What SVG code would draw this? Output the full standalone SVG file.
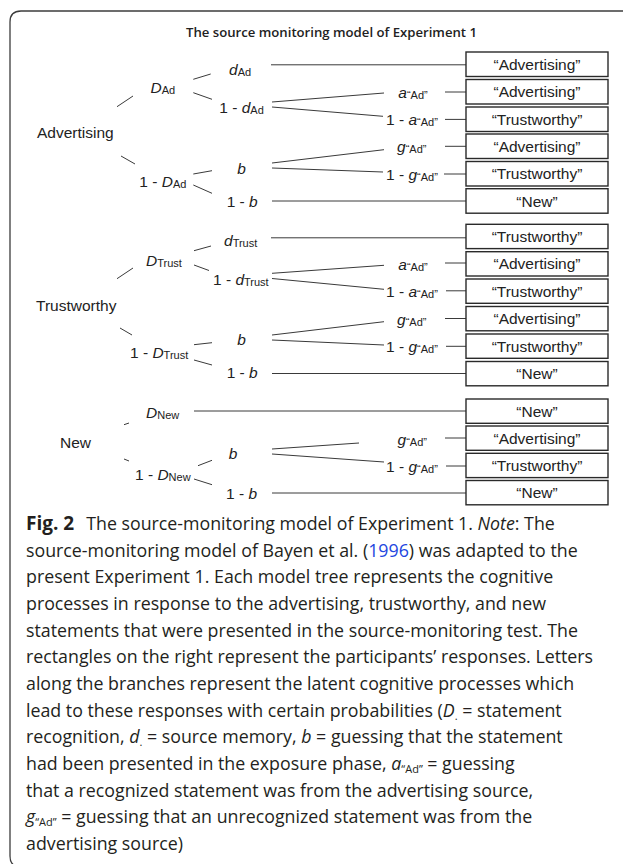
<svg xmlns="http://www.w3.org/2000/svg" width="623" height="864" viewBox="0 0 623 864">
<style>
.frame{fill:none;stroke:#3c3c3c;stroke-width:1.3}
.ln{fill:none;stroke:#3a3a3a;stroke-width:1}
.box{fill:#fff;stroke:#2a2a2a;stroke-width:1.4}
.lbl{font-family:"Liberation Sans",Arial,sans-serif;font-size:15.5px;fill:#222}
.bt{text-anchor:middle}
.it{font-style:italic}
.sub{font-size:11px;font-style:normal}
.title{font-family:"Open Sans","Noto Sans",sans-serif;font-size:12.5px;font-weight:600;fill:#222}
.cap{font-family:"Open Sans","Noto Sans",sans-serif;font-size:17.8px;fill:#231f20}
.b{font-weight:700;font-size:19px}
.csub{font-size:11px;font-style:normal}
.link{fill:#2346e0}
</style>
<rect width="623" height="864" fill="#fff"/>
<path class="frame" d="M623,11 H21 Q10,11 10,22 V856 Q10,867 21,867"/>
<text class="title" x="186" y="37" textLength="291" lengthAdjust="spacingAndGlyphs">The source monitoring model of Experiment 1</text>

<g id="connectors">
<!-- tree 1 -->
<line class="ln" x1="117" y1="106.7" x2="133" y2="96"/>
<line class="ln" x1="121" y1="156" x2="135" y2="164"/>
<line class="ln" x1="193.3" y1="79.3" x2="210.7" y2="74"/>
<line class="ln" x1="193.3" y1="92.7" x2="212" y2="99.3"/>
<line class="ln" x1="193.3" y1="174" x2="212" y2="170.7"/>
<line class="ln" x1="193.3" y1="185" x2="212" y2="193.3"/>
<line class="ln" x1="271" y1="64.8" x2="466" y2="64.8"/>
<line class="ln" x1="272" y1="102" x2="384" y2="93"/>
<line class="ln" x1="272" y1="107" x2="383" y2="116.3"/>
<line class="ln" x1="445" y1="92" x2="466" y2="92"/>
<line class="ln" x1="445" y1="119.4" x2="466" y2="119.4"/>
<line class="ln" x1="272" y1="163" x2="384" y2="149.7"/>
<line class="ln" x1="272" y1="168" x2="383" y2="172"/>
<line class="ln" x1="445" y1="146.3" x2="466" y2="146.3"/>
<line class="ln" x1="444" y1="174" x2="466" y2="174"/>
<line class="ln" x1="272" y1="201" x2="466" y2="201"/>
<!-- tree 2 -->
<line class="ln" x1="117" y1="278.7" x2="133" y2="268"/>
<line class="ln" x1="120" y1="328" x2="132" y2="335"/>
<line class="ln" x1="194" y1="250.7" x2="211" y2="246"/>
<line class="ln" x1="194" y1="265" x2="209" y2="270.5"/>
<line class="ln" x1="194" y1="344.7" x2="212" y2="342.7"/>
<line class="ln" x1="194" y1="360" x2="212" y2="365"/>
<line class="ln" x1="271" y1="237.8" x2="466" y2="237.8"/>
<line class="ln" x1="272" y1="273.3" x2="384" y2="265.3"/>
<line class="ln" x1="272" y1="278.5" x2="384" y2="289.3"/>
<line class="ln" x1="445" y1="263" x2="466" y2="263"/>
<line class="ln" x1="446" y1="290.8" x2="466" y2="290.8"/>
<line class="ln" x1="272" y1="335" x2="384" y2="321.7"/>
<line class="ln" x1="272" y1="340" x2="384" y2="345"/>
<line class="ln" x1="445" y1="318.5" x2="466" y2="318.5"/>
<line class="ln" x1="446" y1="346.3" x2="466" y2="346.3"/>
<line class="ln" x1="272" y1="373.5" x2="466" y2="373.5"/>
<!-- tree 3 -->
<line class="ln" x1="124" y1="424.7" x2="129" y2="423"/>
<line class="ln" x1="124" y1="459" x2="129" y2="461"/>
<line class="ln" x1="198" y1="465.7" x2="212" y2="460.3"/>
<line class="ln" x1="194" y1="479" x2="212" y2="484.7"/>
<line class="ln" x1="194" y1="411" x2="466" y2="411"/>
<line class="ln" x1="272" y1="449" x2="359" y2="443"/>
<line class="ln" x1="272" y1="454" x2="384" y2="462"/>
<line class="ln" x1="445" y1="438" x2="466" y2="438"/>
<line class="ln" x1="446" y1="466" x2="466" y2="466"/>
<line class="ln" x1="272" y1="493" x2="466" y2="493"/>
</g>

<!-- Tree 1: Advertising -->
<g id="tree-advertising">
<text class="lbl" x="37" y="138.3">Advertising</text>
<text class="lbl" x="150.5" y="93.3"><tspan class="it">D</tspan><tspan class="sub" dy="1">Ad</tspan></text>
<text class="lbl" x="229" y="75"><tspan class="it">d</tspan><tspan class="sub" dy="1">Ad</tspan></text>
<text class="lbl" x="219.3" y="113.3">1 - <tspan class="it">d</tspan><tspan class="sub" dy="1">Ad</tspan></text>
<text class="lbl" x="398.3" y="98"><tspan class="it">a</tspan><tspan class="sub" dy="1">“Ad”</tspan></text>
<text class="lbl" x="386" y="124.7">1 - <tspan class="it">a</tspan><tspan class="sub" dy="1">“Ad”</tspan></text>
<text class="lbl" x="237.3" y="174"><tspan class="it">b</tspan></text>
<text class="lbl" x="397" y="152"><tspan class="it">g</tspan><tspan class="sub" dy="1">“Ad”</tspan></text>
<text class="lbl" x="386" y="179.7">1 - <tspan class="it">g</tspan><tspan class="sub" dy="1">“Ad”</tspan></text>
<text class="lbl" x="139.3" y="186.7">1 - <tspan class="it">D</tspan><tspan class="sub" dy="1">Ad</tspan></text>
<text class="lbl" x="226.7" y="206.7">1 - <tspan class="it">b</tspan></text>
</g>
<g id="responses-advertising">
<rect class="box" x="466" y="52" width="142" height="24.5"/><text class="lbl bt" x="537" y="70">“Advertising”</text>
<rect class="box" x="466" y="79.5" width="142" height="24.5"/><text class="lbl bt" x="537" y="97.3">“Advertising”</text>
<rect class="box" x="466" y="107" width="142" height="24.5"/><text class="lbl bt" x="537" y="124.8">“Trustworthy”</text>
<rect class="box" x="466" y="134" width="142" height="24.5"/><text class="lbl bt" x="537" y="151.8">“Advertising”</text>
<rect class="box" x="466" y="161.5" width="142" height="24.5"/><text class="lbl bt" x="537" y="179.3">“Trustworthy”</text>
<rect class="box" x="466" y="188.7" width="142" height="24.5"/><text class="lbl bt" x="537" y="206.5">“New”</text>
</g>

<!-- Tree 2: Trustworthy -->
<g id="tree-trustworthy">
<text class="lbl" x="36" y="310.7">Trustworthy</text>
<text class="lbl" x="146" y="265.7"><tspan class="it">D</tspan><tspan class="sub" dy="1">Trust</tspan></text>
<text class="lbl" x="224" y="245.7"><tspan class="it">d</tspan><tspan class="sub" dy="1">Trust</tspan></text>
<text class="lbl" x="213" y="285">1 - <tspan class="it">d</tspan><tspan class="sub" dy="1">Trust</tspan></text>
<text class="lbl" x="398.3" y="270"><tspan class="it">a</tspan><tspan class="sub" dy="1">“Ad”</tspan></text>
<text class="lbl" x="386" y="297">1 - <tspan class="it">a</tspan><tspan class="sub" dy="1">“Ad”</tspan></text>
<text class="lbl" x="237.3" y="345"><tspan class="it">b</tspan></text>
<text class="lbl" x="397" y="325"><tspan class="it">g</tspan><tspan class="sub" dy="1">“Ad”</tspan></text>
<text class="lbl" x="386" y="351.7">1 - <tspan class="it">g</tspan><tspan class="sub" dy="1">“Ad”</tspan></text>
<text class="lbl" x="130" y="357.7">1 - <tspan class="it">D</tspan><tspan class="sub" dy="1">Trust</tspan></text>
<text class="lbl" x="226.7" y="378.3">1 - <tspan class="it">b</tspan></text>
</g>
<g id="responses-trustworthy">
<rect class="box" x="466" y="224.3" width="142" height="24.3"/><text class="lbl bt" x="537" y="242">“Trustworthy”</text>
<rect class="box" x="466" y="251.7" width="142" height="24.3"/><text class="lbl bt" x="537" y="269.4">“Advertising”</text>
<rect class="box" x="466" y="279" width="142" height="24.3"/><text class="lbl bt" x="537" y="296.7">“Trustworthy”</text>
<rect class="box" x="466" y="306.5" width="142" height="24.3"/><text class="lbl bt" x="537" y="324.2">“Advertising”</text>
<rect class="box" x="466" y="334" width="142" height="24.3"/><text class="lbl bt" x="537" y="351.7">“Trustworthy”</text>
<rect class="box" x="466" y="361.5" width="142" height="24.3"/><text class="lbl bt" x="537" y="379.2">“New”</text>
</g>

<!-- Tree 3: New -->
<g id="tree-new">
<text class="lbl" x="60" y="448.3">New</text>
<text class="lbl" x="146" y="418.3"><tspan class="it">D</tspan><tspan class="sub" dy="1">New</tspan></text>
<text class="lbl" x="228.7" y="459.3"><tspan class="it">b</tspan></text>
<text class="lbl" x="397.5" y="445"><tspan class="it">g</tspan><tspan class="sub" dy="1">“Ad”</tspan></text>
<text class="lbl" x="386" y="472.3">1 - <tspan class="it">g</tspan><tspan class="sub" dy="1">“Ad”</tspan></text>
<text class="lbl" x="135" y="480">1 - <tspan class="it">D</tspan><tspan class="sub" dy="1">New</tspan></text>
<text class="lbl" x="226" y="499">1 - <tspan class="it">b</tspan></text>
</g>
<g id="responses-new">
<rect class="box" x="466" y="399" width="142" height="24.3"/><text class="lbl bt" x="537" y="416.7">“New”</text>
<rect class="box" x="466" y="426" width="142" height="24.3"/><text class="lbl bt" x="537" y="443.7">“Advertising”</text>
<rect class="box" x="466" y="453.3" width="142" height="24.3"/><text class="lbl bt" x="537" y="471">“Trustworthy”</text>
<rect class="box" x="466" y="480.5" width="142" height="24.3"/><text class="lbl bt" x="537" y="498.2">“New”</text>
</g>

<!-- Caption -->
<g id="caption" class="cap">
<text x="26" y="530"><tspan class="b">Fig. 2</tspan><tspan dx="12">The source-monitoring model of Experiment 1. </tspan><tspan class="it">Note</tspan>: The</text>
<text x="26" y="556.7">source-monitoring model of Bayen et al. (<tspan class="link">1996</tspan>) was adapted to the</text>
<text x="26" y="583.3">present Experiment 1. Each model tree represents the cognitive</text>
<text x="26" y="610">processes in response to the advertising, trustworthy, and new</text>
<text x="26" y="636.7">statements that were presented in the source-monitoring test. The</text>
<text x="26" y="663.3">rectangles on the right represent the participants’ responses. Letters</text>
<text x="26" y="690">along the branches represent the latent cognitive processes which</text>
<text x="26" y="716.7">lead to these responses with certain probabilities (<tspan class="it">D</tspan><tspan class="csub" dy="3">.</tspan><tspan dy="-3"> = statement</tspan></text>
<text x="26" y="743.3">recognition, <tspan class="it">d</tspan><tspan class="csub" dy="3">.</tspan><tspan dy="-3"> = source memory, </tspan><tspan class="it">b</tspan> = guessing that the statement</text>
<text x="26" y="770">had been presented in the exposure phase, <tspan class="it">a</tspan><tspan class="csub" dy="3">“Ad”</tspan><tspan dy="-3"> = guessing</tspan></text>
<text x="26" y="796.7">that a recognized statement was from the advertising source,</text>
<text x="26" y="823.3"><tspan class="it">g</tspan><tspan class="csub" dy="3">“Ad”</tspan><tspan dy="-3"> = guessing that an unrecognized statement was from the</tspan></text>
<text x="26" y="850">advertising source)</text>
</g>
</svg>
